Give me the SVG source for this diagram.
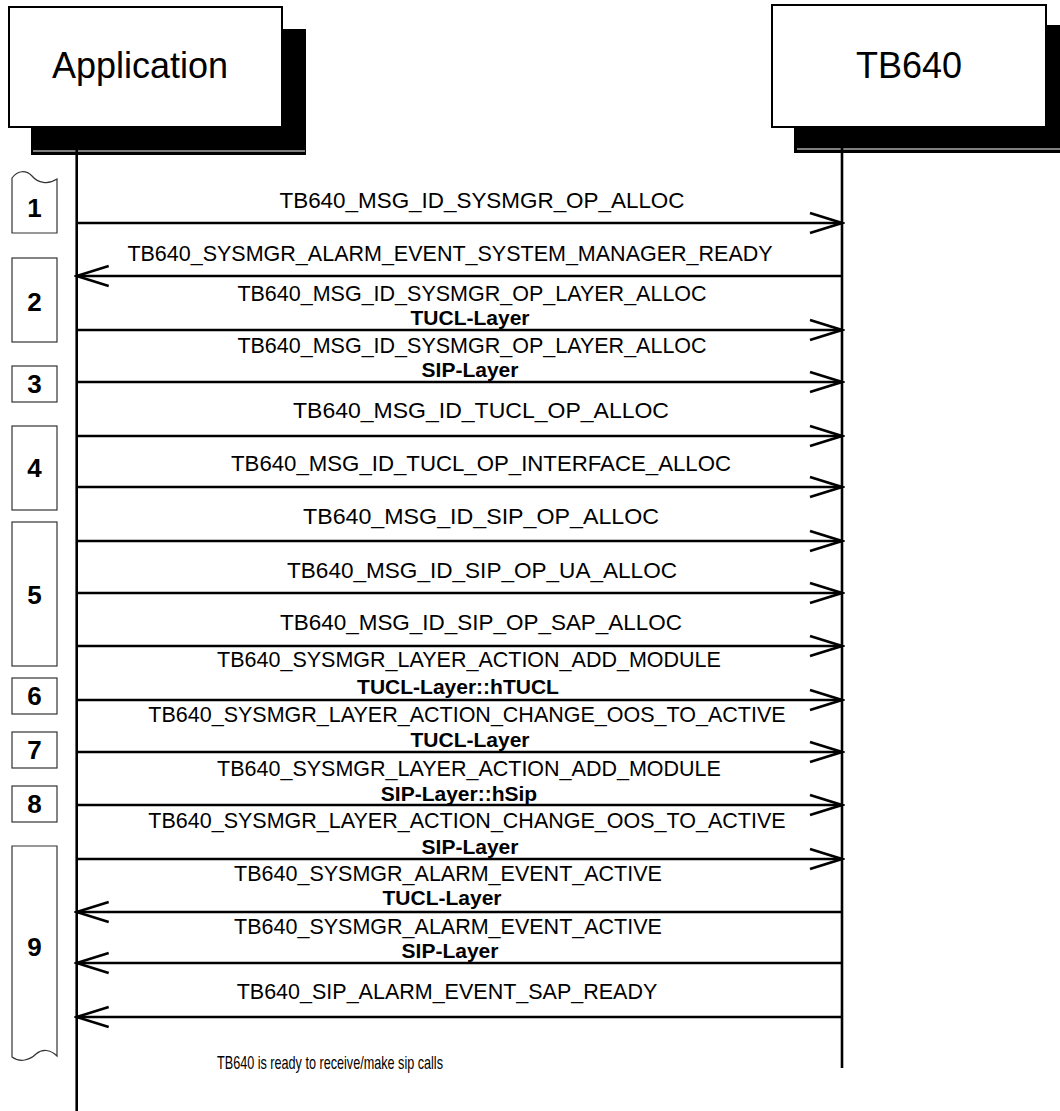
<svg xmlns="http://www.w3.org/2000/svg" width="1060" height="1111" viewBox="0 0 1060 1111">
<style>
.hdr{fill:#fff;stroke:#000;stroke-width:2}
.shd{fill:#000;stroke:none}
.ht{font-family:"Liberation Sans",Arial,sans-serif;font-size:36px;text-anchor:middle;fill:#000}
.life{stroke:#000;stroke-width:2.6;fill:none}
.msg{stroke:#000;stroke-width:2.6;fill:none;marker-end:url(#ah)}
.lb{font-family:"Liberation Sans",Arial,sans-serif;font-size:21.5px;text-anchor:middle;fill:#000}
.lbb{font-family:"Liberation Sans",Arial,sans-serif;font-size:21px;font-weight:bold;text-anchor:middle;fill:#000}
.step{fill:#fff;stroke:#333;stroke-width:1.2}
.sn{font-family:"Liberation Sans",Arial,sans-serif;font-size:26px;font-weight:bold;text-anchor:middle;fill:#000}
.note{font-family:"Liberation Sans",Arial,sans-serif;font-size:19px;fill:#000}
</style>
<defs>
<marker id="ah" markerUnits="userSpaceOnUse" markerWidth="36" markerHeight="26" refX="33" refY="12" orient="auto">
<path d="M1,2 L33,12 L1,22" fill="none" stroke="#000" stroke-width="2.6"/>
</marker>
</defs>
<rect width="1060" height="1111" fill="#fff"/>

<g id="node-application">
<rect class="shd" x="31" y="29" width="275" height="126"/>
<line x1="33" y1="151" x2="305" y2="151" stroke="#fff" stroke-width="1"/>
<rect class="hdr" x="9" y="7" width="273" height="120"/>
<text class="ht" x="140" y="78">Application</text>
</g>

<g id="node-tb640">
<rect class="shd" x="794" y="25" width="266" height="128"/>
<line x1="797" y1="149" x2="1060" y2="149" stroke="#fff" stroke-width="1"/>
<rect class="hdr" x="772" y="5" width="274" height="122"/>
<text class="ht" x="909" y="78">TB640</text>
</g>

<g id="lifelines">
<line class="life" x1="76.7" y1="127" x2="76.7" y2="1111"/>
<line class="life" x1="842" y1="127" x2="842" y2="1068"/>
</g>

<g id="steps">
<g id="step-1"><path class="step" d="M12,178 C18,170 26,170 32,176 C38,183 48,185 57,179 L57,233 L12,233 Z"/><text class="sn" x="34.5" y="217">1</text></g>
<g id="step-2"><rect class="step" x="12" y="258" width="45" height="84"/><text class="sn" x="34.5" y="311">2</text></g>
<g id="step-3"><rect class="step" x="12" y="366" width="45" height="36"/><text class="sn" x="34.5" y="393">3</text></g>
<g id="step-4"><rect class="step" x="12" y="426" width="45" height="84"/><text class="sn" x="34.5" y="477">4</text></g>
<g id="step-5"><rect class="step" x="12" y="522" width="45" height="144"/><text class="sn" x="34.5" y="604">5</text></g>
<g id="step-6"><rect class="step" x="12" y="678" width="45" height="36"/><text class="sn" x="34.5" y="705">6</text></g>
<g id="step-7"><rect class="step" x="12" y="732" width="45" height="36"/><text class="sn" x="34.5" y="759">7</text></g>
<g id="step-8"><rect class="step" x="12" y="786" width="45" height="36"/><text class="sn" x="34.5" y="813">8</text></g>
<g id="step-9"><path class="step" d="M12,846 L57,846 L57,1056 C50,1049 42,1049 36,1054 C30,1060 20,1063 12,1057 Z"/><text class="sn" x="34.5" y="956">9</text></g>
</g>

<g id="connectors">
<line class="msg" x1="76.7" y1="223" x2="842" y2="223"/>
<line class="msg" x1="842" y1="276" x2="76.7" y2="276"/>
<line class="msg" x1="76.7" y1="330" x2="842" y2="330"/>
<line class="msg" x1="76.7" y1="382" x2="842" y2="382"/>
<line class="msg" x1="76.7" y1="436" x2="842" y2="436"/>
<line class="msg" x1="76.7" y1="487" x2="842" y2="487"/>
<line class="msg" x1="76.7" y1="541" x2="842" y2="541"/>
<line class="msg" x1="76.7" y1="593" x2="842" y2="593"/>
<line class="msg" x1="76.7" y1="646" x2="842" y2="646"/>
<line class="msg" x1="76.7" y1="700" x2="842" y2="700"/>
<line class="msg" x1="76.7" y1="752" x2="842" y2="752"/>
<line class="msg" x1="76.7" y1="805" x2="842" y2="805"/>
<line class="msg" x1="76.7" y1="859" x2="842" y2="859"/>
<line class="msg" x1="842" y1="912" x2="76.7" y2="912"/>
<line class="msg" x1="842" y1="963" x2="76.7" y2="963"/>
<line class="msg" x1="842" y1="1017" x2="76.7" y2="1017"/>
</g>

<g id="labels">
<text class="lb" x="482" y="208" textLength="405" lengthAdjust="spacingAndGlyphs">TB640_MSG_ID_SYSMGR_OP_ALLOC</text>
<text class="lb" x="450" y="261">TB640_SYSMGR_ALARM_EVENT_SYSTEM_MANAGER_READY</text>
<text class="lb" x="472" y="301">TB640_MSG_ID_SYSMGR_OP_LAYER_ALLOC</text>
<text class="lbb" x="470" y="325">TUCL-Layer</text>
<text class="lb" x="472" y="353">TB640_MSG_ID_SYSMGR_OP_LAYER_ALLOC</text>
<text class="lbb" x="470" y="377">SIP-Layer</text>
<text class="lb" x="481" y="418" textLength="376" lengthAdjust="spacingAndGlyphs">TB640_MSG_ID_TUCL_OP_ALLOC</text>
<text class="lb" x="481" y="471" textLength="500" lengthAdjust="spacingAndGlyphs">TB640_MSG_ID_TUCL_OP_INTERFACE_ALLOC</text>
<text class="lb" x="481" y="524" textLength="356" lengthAdjust="spacingAndGlyphs">TB640_MSG_ID_SIP_OP_ALLOC</text>
<text class="lb" x="482" y="578" textLength="390" lengthAdjust="spacingAndGlyphs">TB640_MSG_ID_SIP_OP_UA_ALLOC</text>
<text class="lb" x="481" y="630" textLength="402" lengthAdjust="spacingAndGlyphs">TB640_MSG_ID_SIP_OP_SAP_ALLOC</text>
<text class="lb" x="469" y="667">TB640_SYSMGR_LAYER_ACTION_ADD_MODULE</text>
<text class="lbb" x="458" y="694">TUCL-Layer::hTUCL</text>
<text class="lb" x="467" y="722">TB640_SYSMGR_LAYER_ACTION_CHANGE_OOS_TO_ACTIVE</text>
<text class="lbb" x="470" y="747">TUCL-Layer</text>
<text class="lb" x="469" y="776">TB640_SYSMGR_LAYER_ACTION_ADD_MODULE</text>
<text class="lbb" x="459" y="801">SIP-Layer::hSip</text>
<text class="lb" x="467" y="828">TB640_SYSMGR_LAYER_ACTION_CHANGE_OOS_TO_ACTIVE</text>
<text class="lbb" x="470" y="854">SIP-Layer</text>
<text class="lb" x="448" y="881">TB640_SYSMGR_ALARM_EVENT_ACTIVE</text>
<text class="lbb" x="442" y="905">TUCL-Layer</text>
<text class="lb" x="448" y="934">TB640_SYSMGR_ALARM_EVENT_ACTIVE</text>
<text class="lbb" x="450" y="958">SIP-Layer</text>
<text class="lb" x="447" y="999">TB640_SIP_ALARM_EVENT_SAP_READY</text>
<text class="note" x="217" y="1069" textLength="226" lengthAdjust="spacingAndGlyphs">TB640 is ready to receive/make sip calls</text>
</g>
</svg>
